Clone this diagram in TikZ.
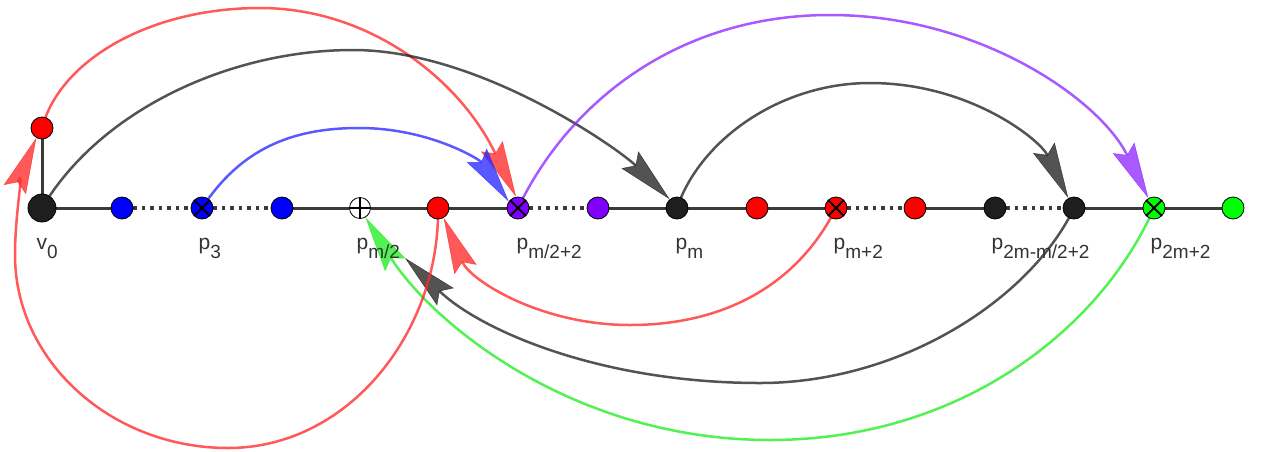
\documentclass[tikz,border=0pt]{standalone}
\usepackage{fontspec}
\setmainfont{Liberation Sans}
\usetikzlibrary{arrows.meta}
\pgfdeclarelayer{bg}
\pgfsetlayers{bg,main}
\definecolor{axc}{HTML}{3A3A3A}
\definecolor{labc}{HTML}{333333}
\definecolor{cred}{HTML}{FF2A2A}
\definecolor{cblk}{HTML}{222222}
\definecolor{cblu}{HTML}{2A2AFF}
\definecolor{cpur}{HTML}{8F2AFF}
\definecolor{cgrn}{HTML}{22EE22}
\definecolor{nred}{HTML}{FF0000}
\definecolor{nblu}{HTML}{0000FF}
\definecolor{npur}{HTML}{7F00FF}
\definecolor{ngrn}{HTML}{00FF00}
\definecolor{nblk}{HTML}{1E1E1E}
\newcommand\lab[2]{#1\raisebox{-9pt}{\fontsize{19}{19}\selectfont #2}}
\tikzset{
 dotnode/.style={circle, draw=black, line width=0.8pt, minimum size=22pt, inner sep=0pt},
 xmark/.style={path picture={\draw[line width=2pt] (path picture bounding box.north west)--(path picture bounding box.south east) (path picture bounding box.north east)--(path picture bounding box.south west);}},
 pmark/.style={path picture={\draw[line width=1.2pt] (path picture bounding box.north)--(path picture bounding box.south) (path picture bounding box.east)--(path picture bounding box.west);}},
 axline/.style={line width=3pt, draw=axc},
 dotline/.style={line width=3.5pt, draw=axc, dash pattern=on 3.5pt off 5pt},
 curv/.style={line width=2.5pt, -{Stealth[length=56pt,width=24pt,inset=8pt,line width=0.5pt]}, opacity=0.78},
 lbl/.style={anchor=base west, inner sep=0pt, text=labc, font=\fontsize{21}{21}\selectfont},
}
\begin{document}
\begin{tikzpicture}[x=1pt,y=-1pt]
\useasboundingbox (0,0) rectangle (1262,451);
% nodes on the line
\node[dotnode, fill=nblk, minimum size=28pt] (v0) at (42,208) {};
\node[dotnode, fill=nred] (r0) at (42,128) {};
\node[dotnode, fill=nblu] (b1) at (122,208) {};
\node[dotnode, fill=nblu, xmark] (p3) at (202,208) {};
\node[dotnode, fill=nblu] (b2) at (282,208) {};
\node[dotnode, fill=white, pmark, minimum size=21pt] (pm2) at (360,208) {};
\node[dotnode, fill=nred] (r1) at (438,208) {};
\node[dotnode, fill=npur, xmark] (pm22) at (518,208) {};
\node[dotnode, fill=npur] (u1) at (598,208) {};
\node[dotnode, fill=nblk] (pm) at (677,208) {};
\node[dotnode, fill=nred] (r2) at (757,208) {};
\node[dotnode, fill=nred, xmark] (pmp2) at (836,208) {};
\node[dotnode, fill=nred] (r3) at (915,208) {};
\node[dotnode, fill=nblk] (k1) at (995,208) {};
\node[dotnode, fill=nblk] (p2mm) at (1074,208) {};
\node[dotnode, fill=ngrn, xmark] (p2m2) at (1154,208) {};
\node[dotnode, fill=ngrn] (g1) at (1233,208) {};
\coordinate (c1) at (405,258);
% labels
\node[lbl] (lv0) at (36.5,249) {\lab{v}{0}};
\node[lbl] (lp3) at (198.5,249) {\lab{p}{3}};
\node[lbl] (lpm2) at (356.5,249) {\lab{p}{m/2}};
\node[lbl] (lpm22) at (516.5,249) {\lab{p}{m/2+2}};
\node[lbl] (lpm) at (675.5,249) {\lab{p}{m}};
\node[lbl] (lpmp2) at (833.5,249) {\lab{p}{m+2}};
\node[lbl] (lp2mm) at (991.5,249) {\lab{p}{2m-m/2+2}};
\node[lbl] (lp2m2) at (1150.5,249) {\lab{p}{2m+2}};
\begin{pgfonlayer}{bg}
% axis
\draw[axline] (v0) -- (r0);
\draw[axline] (v0) -- (b1);
\draw[dotline] (b1) -- (p3);
\draw[dotline] (p3) -- (b2);
\draw[axline] (b2) -- (pm2);
\draw[axline] (pm2) -- (r1);
\draw[axline] (r1) -- (pm22);
\draw[dotline] (pm22) -- (u1);
\draw[axline] (u1) -- (pm);
\draw[axline] (pm) -- (r2);
\draw[axline] (r2) -- (pmp2);
\draw[dotline] (pmp2) -- (r3);
\draw[axline] (r3) -- (k1);
\draw[dotline] (k1) -- (p2mm);
\draw[axline] (p2mm) -- (p2m2);
\draw[axline] (p2m2) -- (g1);
% upper arcs
\draw[curv, cred] (r0.center) .. controls (60,60) and (150,8) .. (260,8) .. controls (370,8) and (460,80) .. (pm22.100);
\draw[curv, cblk] (v0.center) .. controls (100,110) and (230,50) .. (353,50) .. controls (480,50) and (620,150) .. (pm.130);
\draw[curv, cblu] (p3.center) .. controls (240,150) and (290,128) .. (359,128) .. controls (430,128) and (480,160) .. (pm22.145);
\draw[curv, cpur] (pm22.center) .. controls (570,100) and (680,15) .. (830,15) .. controls (980,15) and (1100,100) .. (p2m2.120);
\draw[curv, cblk] (pm.center) .. controls (700,140) and (780,83) .. (870,83) .. controls (970,83) and (1040,140) .. (p2mm.120);
% lower arcs
\draw[curv, cred] (pmp2.center) .. controls (800,280) and (730,325) .. (630,325) .. controls (540,325) and (470,280) .. (r1.-60);
\draw[curv, cblk] (p2mm.center) .. controls (1030,300) and (900,383) .. (760,383) .. controls (600,383) and (480,330) .. (c1);
\draw[curv, cgrn] (p2m2.center) .. controls (1100,330) and (960,440) .. (770,440) .. controls (570,440) and (430,320) .. (pm2.-60);
\draw[curv, cred] (r1.center) .. controls (440,330) and (350,448) .. (228,448) .. controls (111,448) and (15,361) .. (15,255) .. controls (15,210) and (25,165) .. (r0.240);
\end{pgfonlayer}
\end{tikzpicture}
\end{document}
